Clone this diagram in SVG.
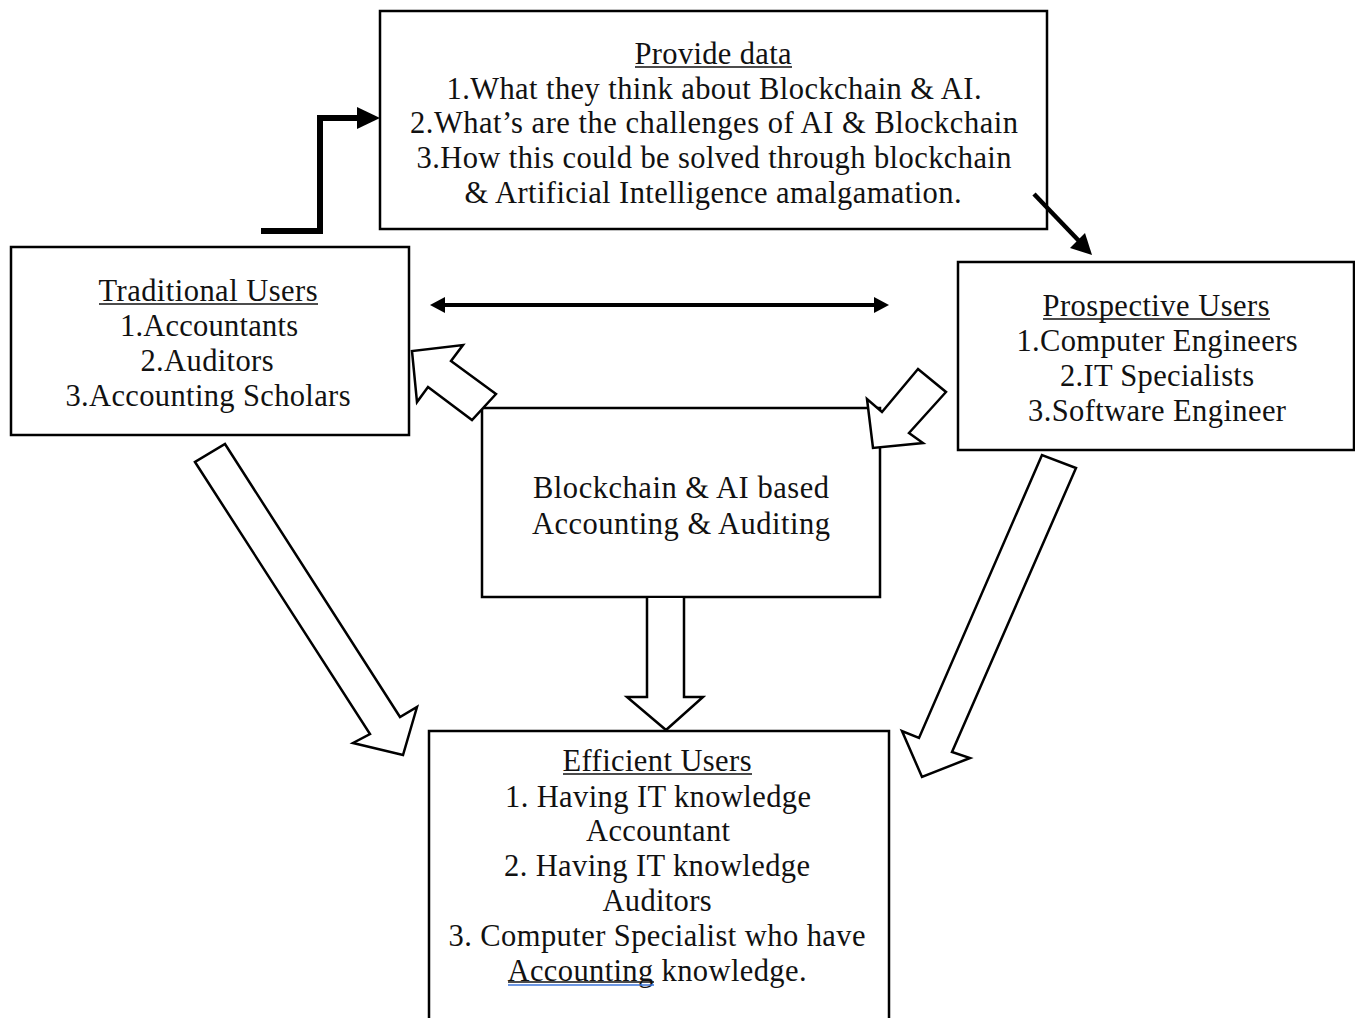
<svg xmlns="http://www.w3.org/2000/svg" width="1355" height="1018" viewBox="0 0 1355 1018">
<defs>
<style>
.box{fill:#fff;stroke:#000;stroke-width:2.5}
.t{font-family:"Liberation Serif","Times New Roman",serif;font-size:30.5px;fill:#111;text-anchor:middle}
.blk{fill:#fff;stroke:#000;stroke-width:2.5;stroke-linejoin:miter}
.ul{stroke:#111;stroke-width:1.5}
</style>
</defs>
<rect width="1355" height="1018" fill="#fff"/>
<g id="provide-data">
<rect class="box" x="380" y="11" width="667" height="218"/>
<text class="t" x="713" y="64" textLength="157" lengthAdjust="spacing">Provide data</text>
<line class="ul" x1="635" y1="67" x2="792" y2="67"/>
<text class="t" x="714" y="99" textLength="535" lengthAdjust="spacing">1.What they think about Blockchain &amp; AI.</text>
<text class="t" x="714" y="133" textLength="608" lengthAdjust="spacing">2.What’s are the challenges of AI &amp; Blockchain</text>
<text class="t" x="714" y="168" textLength="595" lengthAdjust="spacing">3.How this could be solved through blockchain</text>
<text class="t" x="713" y="203" textLength="497" lengthAdjust="spacing">&amp; Artificial Intelligence amalgamation.</text>
</g>
<g id="traditional-users">
<rect class="box" x="11" y="247" width="398" height="188"/>
<text class="t" x="208" y="301" textLength="219" lengthAdjust="spacing">Traditional Users</text>
<line class="ul" x1="99" y1="304" x2="318" y2="304"/>
<text class="t" x="209" y="336" textLength="178" lengthAdjust="spacing">1.Accountants</text>
<text class="t" x="207" y="371" textLength="133" lengthAdjust="spacing">2.Auditors</text>
<text class="t" x="208" y="406" textLength="285" lengthAdjust="spacing">3.Accounting Scholars</text>
</g>
<g id="prospective-users">
<rect class="box" x="958" y="262" width="396" height="188"/>
<text class="t" x="1156" y="316" textLength="227" lengthAdjust="spacing">Prospective Users</text>
<line class="ul" x1="1043" y1="319" x2="1270" y2="319"/>
<text class="t" x="1157" y="351" textLength="281" lengthAdjust="spacing">1.Computer Engineers</text>
<text class="t" x="1157" y="386" textLength="194" lengthAdjust="spacing">2.IT Specialists</text>
<text class="t" x="1157" y="421" textLength="258" lengthAdjust="spacing">3.Software Engineer</text>
</g>
<g id="blockchain-ai">
<rect class="box" x="482" y="408" width="398" height="189"/>
<text class="t" x="681" y="498" textLength="296" lengthAdjust="spacing">Blockchain &amp; AI based</text>
<text class="t" x="681" y="534" textLength="298" lengthAdjust="spacing">Accounting &amp; Auditing</text>
</g>
<g id="efficient-users">
<rect class="box" x="429" y="731" width="460" height="300"/>
<text class="t" x="657" y="771" textLength="189" lengthAdjust="spacing">Efficient Users</text>
<line class="ul" x1="563" y1="774" x2="752" y2="774"/>
<text class="t" x="658" y="807" textLength="306" lengthAdjust="spacing">1. Having IT knowledge</text>
<text class="t" x="658" y="841" textLength="144" lengthAdjust="spacing">Accountant</text>
<text class="t" x="657" y="876" textLength="306" lengthAdjust="spacing">2. Having IT knowledge</text>
<text class="t" x="657" y="911" textLength="109" lengthAdjust="spacing">Auditors</text>
<text class="t" x="657" y="946" textLength="417" lengthAdjust="spacing">3. Computer Specialist who have</text>
<text class="t" x="657" y="981" textLength="299" lengthAdjust="spacing">Accounting knowledge.</text>
<line class="ul" x1="508" y1="982" x2="654" y2="982"/>
<line x1="508" y1="985" x2="654" y2="985" stroke="#3b73d9" stroke-width="1.5"/>
</g>
<g id="connectors">
<path d="M261,231 H320 V118 H360" fill="none" stroke="#000" stroke-width="6"/>
<path d="M357,107 L380,118 L357,129 z" fill="#000"/>
<line x1="1034" y1="194" x2="1080" y2="242" stroke="#000" stroke-width="4.5"/>
<path d="M1070,248 L1092,255 L1085,233 z" fill="#000"/>
<line x1="445" y1="305" x2="875" y2="305" stroke="#000" stroke-width="4"/>
<path d="M445,297 L430,305 L445,313 z" fill="#000"/>
<path d="M874,297 L889,305 L874,313 z" fill="#000"/>
<path class="blk" d="M496,394 L451,361 L463,345 L412,351 L417,402 L428,387 L472,420 z"/>
<path class="blk" d="M918,369 L882,412 L867,399 L873,448 L923,443 L909,433 L946,392 z"/>
<path class="blk" d="M195,462 L370,734 L353,743 L403,755 L417,707 L400,717 L225,444 z"/>
<path class="blk" d="M1042,455 L919,738 L902,731 L922,777 L970,758 L952,752 L1076,468 z"/>
<path class="blk" d="M647,598 L647,697 L627,697 L666,730 L703,697 L684,697 L684,598"/>
</g>
</svg>
